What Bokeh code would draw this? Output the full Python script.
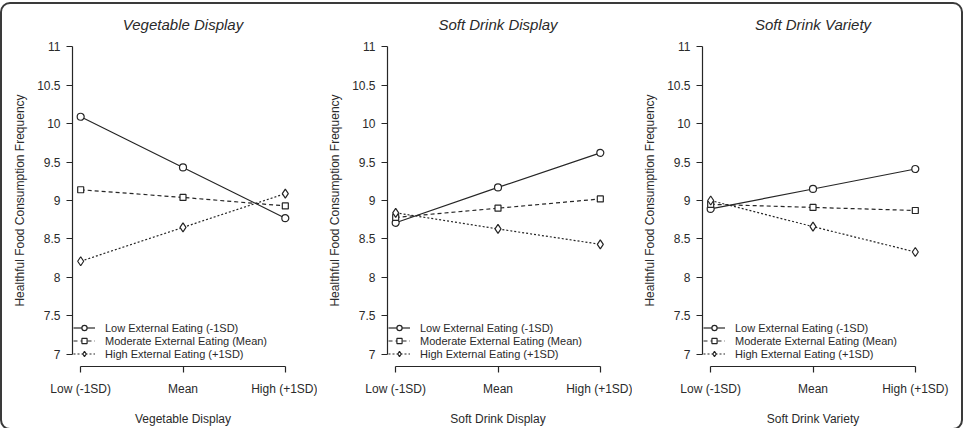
from bokeh.plotting import figure
from bokeh.layouts import row
from bokeh.models import Range1d, FixedTicker
from bokeh.embed import file_html
from bokeh.resources import INLINE

x_levels = [1, 2, 3]
x_labels = ["Low (-1SD)", "Mean", "High (+1SD)"]
y_ticks = [7, 7.5, 8, 8.5, 9, 9.5, 10, 10.5, 11]
y_tick_labels = ["7", "7.5", "8", "8.5", "9", "9.5", "10", "10.5", "11"]
panel_titles = ["Vegetable Display", "Soft Drink Display", "Soft Drink Variety"]
series_names = ["Low External Eating (-1SD)", "Moderate External Eating (Mean)", "High External Eating (+1SD)"]
y_title = "Healthful Food Consumption Frequency"

veg_low = [10.09, 9.43, 8.77]
veg_mod = [9.14, 9.04, 8.93]
veg_high = [8.21, 8.65, 9.09]

sdd_low = [8.71, 9.17, 9.62]
sdd_mod = [8.78, 8.90, 9.02]
sdd_high = [8.84, 8.63, 8.43]

sdv_low = [8.89, 9.15, 9.41]
sdv_mod = [8.95, 8.91, 8.87]
sdv_high = [9.00, 8.66, 8.33]

panels = [
    (panel_titles[0], [veg_low, veg_mod, veg_high]),
    (panel_titles[1], [sdd_low, sdd_mod, sdd_high]),
    (panel_titles[2], [sdv_low, sdv_mod, sdv_high]),
]

INK = "#262626"
TXT = "#2a2a2a"
FONT = "Liberation Sans"
dashes = ["solid", "4 3", "2 2"]
markers = ["circle", "square", "diamond"]
msizes = [7, 6, 9]

figs = []
for i, (title, series) in enumerate(panels):
    w = 315 if i < 2 else 329
    p = figure(width=w, height=424, output_backend="svg", toolbar_location=None,
               x_range=Range1d(0.92, 3.08), y_range=Range1d(6.84, 11.16),
               min_border_left=70, min_border_right=w - 70 - 221,
               min_border_top=30, min_border_bottom=61)
    p.title.text = title
    p.title.align = "center"
    p.title.text_font = FONT
    p.title.text_font_style = "italic"
    p.title.text_font_size = "15px"
    p.title.text_color = TXT
    p.title.standoff = 4
    p.outline_line_color = None
    p.grid.visible = False
    p.background_fill_color = None
    p.border_fill_color = None

    xa = p.xaxis[0]
    xa.ticker = FixedTicker(ticks=x_levels)
    xa.major_label_overrides = {x: lab for x, lab in zip(x_levels, x_labels)}
    xa.bounds = (1, 3)
    xa.axis_label = title
    ya = p.yaxis[0]
    ya.ticker = FixedTicker(ticks=y_ticks)
    ya.major_label_overrides = {t: lab for t, lab in zip(y_ticks, y_tick_labels)}
    ya.bounds = (7, 11)
    ya.axis_label = y_title
    for ax in (xa, ya):
        ax.axis_line_color = INK
        ax.axis_line_width = 1.2
        ax.major_tick_line_color = INK
        ax.major_tick_line_width = 1.2
        ax.major_tick_in = 0
        ax.major_tick_out = 6
        ax.minor_tick_line_color = None
        ax.major_label_text_font = FONT
        ax.major_label_text_font_size = "12px"
        ax.major_label_text_color = TXT
        ax.axis_label_text_font = FONT
        ax.axis_label_text_font_size = "12px"
        ax.axis_label_text_font_style = "normal"
        ax.axis_label_text_color = TXT
    xa.major_label_standoff = 9
    xa.axis_label_standoff = 13
    ya.major_label_standoff = 6
    ya.axis_label_standoff = 7

    for s, vals in enumerate(series):
        p.line(x_levels, vals, line_color=INK, line_width=1.2, line_dash=dashes[s],
               legend_label=series_names[s])
        p.scatter(x_levels, vals, marker=markers[s], size=msizes[s], line_color=INK,
                  fill_color="white", line_width=1.2, legend_label=series_names[s])

    lg = p.legend[0]
    lg.location = (1, 6)
    lg.background_fill_alpha = 0
    lg.border_line_color = None
    lg.padding = 0
    lg.spacing = 0
    lg.margin = 0
    lg.label_height = 13
    lg.glyph_height = 13
    lg.glyph_width = 22
    lg.label_standoff = 10
    lg.label_text_font = FONT
    lg.label_text_font_size = "11px"
    lg.label_text_color = TXT
    figs.append(p)

layout = row(figs, styles={"border": "2px solid #3a3a3a", "border-radius": "10px",
                           "margin-top": "2px", "background": "white"})

open("out.html", "w").write(file_html(layout, INLINE))
